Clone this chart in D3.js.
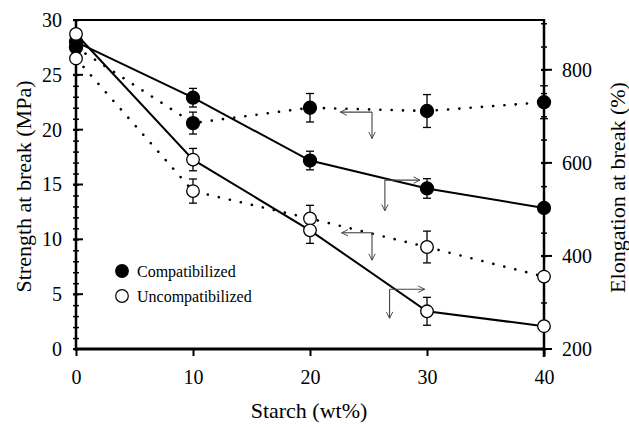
<!DOCTYPE html>
<html>
<head>
<meta charset="utf-8">
<script src="https://cdn.jsdelivr.net/npm/d3@7"></script>
<style>
  body { margin: 0; background: #fff; }
  svg text { font-family: "Liberation Serif", "Times New Roman", Times, "DejaVu Serif", serif !important; fill: #000; }
</style>
</head>
<body>
<svg id="chart" width="629" height="427"></svg>
<script>
// data
const starch = [0, 10, 20, 30, 40];
const compStrength      = [27.5, 20.6, 22.0, 21.7, 22.5];
const compStrengthErr   = [0, 1.0, 1.3, 1.5, 1.5];
const compElong         = [860, 740, 605, 545, 503];
const compElongErr      = [0, 20, 20, 21, 0];
const uncompStrength    = [26.5, 14.4, 11.9, 9.3, 6.6];
const uncompStrengthErr = [0, 1.1, 1.2, 1.45, 0.3];
const uncompElong       = [877, 607, 455, 281, 249];
const uncompElongErr    = [0, 24, 28, 30, 0];

const xTicks = [0, 10, 20, 30, 40];
const leftTicks = [0, 5, 10, 15, 20, 25, 30];
const rightTicks = [200, 400, 600, 800];

// axis-pointer arrows (starch units, strength units)
const arrows = [
  {x0: 25.3, x1: 22.6, y: 21.6, yEnd: 19.2},
  {x0: 26.4, x1: 29.4, y: 15.4, yEnd: 12.6},
  {x0: 25.3, x1: 22.7, y: 10.6, yEnd: 8.1},
  {x0: 26.8, x1: 29.8, y: 5.45, yEnd: 2.8}
];

const svg = d3.select("#chart");
const margin = {top: 20, right: 85, bottom: 78, left: 76};
const W = 629, H = 427;
const w = W - margin.left - margin.right;
const h = H - margin.top - margin.bottom;

const x = d3.scaleLinear().domain([0, 40]).range([margin.left, margin.left + w]);
const yL = d3.scaleLinear().domain([0, 30]).range([margin.top + h, margin.top]);
const yR = d3.scaleLinear().domain([200, 907]).range([margin.top + h, margin.top]);

// frame
svg.append("line")
  .attr("x1", x(0)).attr("x2", x(40))
  .attr("y1", yL(30)).attr("y2", yL(30))
  .attr("stroke", "#000").attr("stroke-width", 2);

// left axis
const gl = svg.append("g").attr("transform", `translate(${x(0)},0)`);
gl.call(d3.axisLeft(yL).tickValues(d3.range(0, 31, 1)).tickSize(3).tickFormat(""))
  .call(g => g.select(".domain").remove());
gl.selectAll(".tick line").attr("x2", -3).attr("x1", 3).attr("stroke-width", 1.5);
gl.append("g").call(d3.axisLeft(yL).tickValues(leftTicks).tickSize(0).tickPadding(14))
  .call(g => g.select(".domain").remove())
  .selectAll("text").attr("font-size", 20);
gl.selectAll(".maj").data(leftTicks).enter().append("line")
  .attr("x1", -3).attr("x2", 7)
  .attr("y1", d => yL(d)).attr("y2", d => yL(d))
  .attr("stroke", "#000").attr("stroke-width", 2);
gl.append("line").attr("y1", yL(0) + 2).attr("y2", yL(30) - 1)
  .attr("stroke", "#000").attr("stroke-width", 2.5);

// right axis
const gr = svg.append("g").attr("transform", `translate(${x(40)},0)`);
gr.call(d3.axisRight(yR).tickValues(d3.range(200, 901, 50)).tickFormat(""))
  .call(g => g.select(".domain").remove());
gr.selectAll(".tick line").attr("x1", -3).attr("x2", 3).attr("stroke-width", 1.5);
gr.append("g").call(d3.axisRight(yR).tickValues(rightTicks).tickSize(0).tickPadding(18))
  .call(g => g.select(".domain").remove())
  .selectAll("text").attr("font-size", 20);
gr.selectAll(".maj").data(rightTicks).enter().append("line")
  .attr("x1", -3).attr("x2", 8)
  .attr("y1", d => yR(d)).attr("y2", d => yR(d))
  .attr("stroke", "#000").attr("stroke-width", 2);
gr.append("line").attr("y1", yL(0) + 8).attr("y2", yL(30) - 1)
  .attr("stroke", "#000").attr("stroke-width", 2.5);

// bottom axis
const gb = svg.append("g").attr("transform", `translate(0,${yL(0)})`);
gb.call(d3.axisBottom(x).tickValues(xTicks).tickSize(7).tickPadding(14))
  .call(g => g.select(".domain").remove());
gb.selectAll(".tick line").attr("stroke-width", 2);
gb.selectAll("text").attr("font-size", 20);
gb.append("line").attr("x1", x(0) - 1).attr("x2", x(40) + 1)
  .attr("stroke", "#000").attr("stroke-width", 3);

// axis titles
svg.append("text")
  .attr("transform", `translate(31,${(yL(0) + yL(30)) / 2 + 2}) rotate(-90)`)
  .attr("text-anchor", "middle").attr("font-size", 22)
  .text("Strength at break (MPa)");
svg.append("text")
  .attr("transform", `translate(625,${(yL(0) + yL(30)) / 2 + 3}) rotate(-90)`)
  .attr("text-anchor", "middle").attr("font-size", 22)
  .text("Elongation at break (%)");
svg.append("text")
  .attr("x", 309).attr("y", 418)
  .attr("text-anchor", "middle").attr("font-size", 22)
  .text("Starch (wt%)");

// series
const series = [
  {vals: compStrength,   err: compStrengthErr,   y: yL, dotted: true,  filled: true},
  {vals: compElong,      err: compElongErr,      y: yR, dotted: false, filled: true},
  {vals: uncompStrength, err: uncompStrengthErr, y: yL, dotted: true,  filled: false},
  {vals: uncompElong,    err: uncompElongErr,    y: yR, dotted: false, filled: false}
];

series.forEach(s => {
  const pts = starch.map((d, i) => ({x: d, v: s.vals[i], e: s.err[i]}));
  const line = d3.line().x(d => x(d.x)).y(d => s.y(d.v));
  svg.append("path")
    .datum(pts)
    .attr("fill", "none")
    .attr("stroke", "#000")
    .attr("stroke-width", s.dotted ? 2.6 : 2)
    .attr("stroke-linecap", s.dotted ? "round" : "butt")
    .attr("stroke-dasharray", s.dotted ? "0.1,11.2" : null)
    .attr("d", line);
  s.pts = pts;
});

// error bars
series.forEach(s => {
  const eb = svg.append("g").attr("stroke", "#000").attr("stroke-width", 1.3);
  s.pts.filter(d => d.e > 0).forEach(d => {
    const cx = x(d.x), top = s.y(d.v + d.e), bot = s.y(d.v - d.e);
    eb.append("line").attr("x1", cx).attr("x2", cx).attr("y1", top).attr("y2", bot);
    eb.append("line").attr("x1", cx - 4).attr("x2", cx + 4).attr("y1", top).attr("y2", top);
    eb.append("line").attr("x1", cx - 4).attr("x2", cx + 4).attr("y1", bot).attr("y2", bot);
  });
});

// markers: filled first, open on top
series.filter(s => s.filled).concat(series.filter(s => !s.filled)).forEach(s => {
  svg.append("g").selectAll("circle")
    .data(s.pts).enter().append("circle")
    .attr("cx", d => x(d.x)).attr("cy", d => s.y(d.v))
    .attr("r", s.filled ? 6.5 : 6.3)
    .attr("fill", s.filled ? "#000" : "#fff")
    .attr("stroke", "#000").attr("stroke-width", 1.3);
});

// arrows showing which axis each curve uses
const defs = svg.append("defs");
defs.append("marker")
  .attr("id", "head").attr("viewBox", "0 0 10 10")
  .attr("refX", 9).attr("refY", 5)
  .attr("markerWidth", 8).attr("markerHeight", 8)
  .attr("markerUnits", "userSpaceOnUse")
  .attr("orient", "auto")
  .append("path").attr("d", "M1,1 L9,5 L1,9")
  .attr("fill", "none").attr("stroke", "#444").attr("stroke-width", 1.2);

arrows.forEach(a => {
  const g = svg.append("g").attr("stroke", "#444").attr("stroke-width", 1.1);
  g.append("line")
    .attr("x1", x(a.x0)).attr("x2", x(a.x1))
    .attr("y1", yL(a.y)).attr("y2", yL(a.y))
    .attr("marker-end", "url(#head)");
  g.append("line")
    .attr("x1", x(a.x0)).attr("x2", x(a.x0))
    .attr("y1", yL(a.y)).attr("y2", yL(a.yEnd))
    .attr("marker-end", "url(#head)");
});

// legend
const legendItems = [
  {label: "Compatibilized", filled: true},
  {label: "Uncompatibilized", filled: false}
];
const legend = svg.append("g").attr("transform", "translate(122,271)");
legendItems.forEach((d, i) => {
  legend.append("circle")
    .attr("cx", 0).attr("cy", i * 25).attr("r", 6.3)
    .attr("fill", d.filled ? "#000" : "#fff")
    .attr("stroke", "#000").attr("stroke-width", 1.2);
  legend.append("text")
    .attr("x", 15).attr("y", i * 25).attr("dy", "0.35em")
    .attr("font-size", 16)
    .text(d.label);
});
</script>
</body>
</html>
